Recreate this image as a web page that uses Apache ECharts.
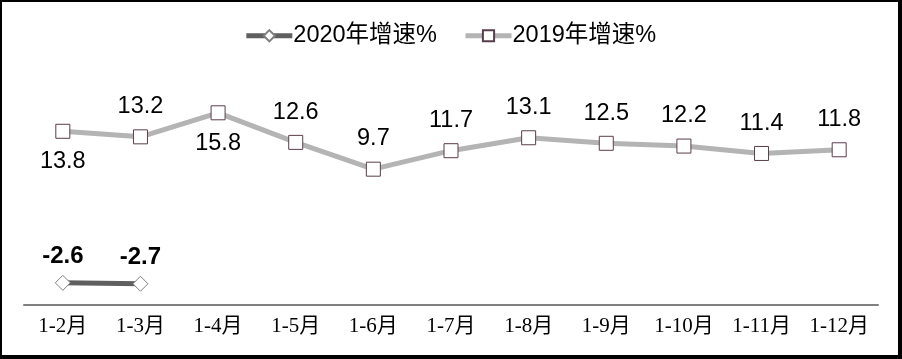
<!DOCTYPE html>
<html><head><meta charset="utf-8">
<script src="https://cdn.jsdelivr.net/npm/echarts@6/dist/echarts.min.js"></script>
<style>
html,body{margin:0;padding:0;background:#fff;}
#c{width:902px;height:359px;box-sizing:border-box;border-style:solid;border-color:#000;border-width:2px 4px 4px 2px;}
</style></head>
<body><div id="c"></div>
<script>
const categories = ['1-2月','1-3月','1-4月','1-5月','1-6月','1-7月','1-8月','1-9月','1-10月','1-11月','1-12月'];
const values2020 = [-2.6, -2.7, null, null, null, null, null, null, null, null, null];
const values2019 = [13.8, 13.2, 15.8, 12.6, 9.7, 11.7, 13.1, 12.5, 12.2, 11.4, 11.8];
const belowIdx2019 = [0, 2];
const name2020 = '2020年增速%';
const name2019 = '2019年增速%';

const chart = echarts.init(document.getElementById('c'));
const labelFont = "'Liberation Sans', Arial, 'Noto Sans CJK SC', sans-serif";
chart.setOption({
  animation: false,
  legend: {
    top: 17, left: 'center', itemGap: 26, itemWidth: 46, itemHeight: 14,
    lineStyle: {width: 5},
    textStyle: {fontSize: 23.5, color: '#000', fontFamily: labelFont, padding: [0, 0, 0, -4]},
    data: [name2020, name2019]
  },
  grid: {left: 22, right: 20, top: 72, bottom: 50},
  xAxis: {
    type: 'category', data: categories, boundaryGap: true,
    axisLine: {onZero: false, lineStyle: {color: '#808080', width: 2}},
    axisTick: {show: false},
    axisLabel: {fontSize: 21, color: '#000', margin: 11, fontFamily: "'Liberation Serif', 'DejaVu Serif', 'Noto Sans CJK SC', serif"}
  },
  yAxis: {type: 'value', min: -5, max: 20, show: false, splitLine: {show: false}},
  series: [
    {
      name: name2020, type: 'line', data: values2020,
      symbol: 'diamond', symbolSize: 15,
      lineStyle: {color: '#5f5f5f', width: 5},
      itemStyle: {color: '#fff', borderColor: '#7f7f7f', borderWidth: 1},
      label: {show: true, position: 'top', distance: 6, fontSize: 24, fontWeight: 'bold', color: '#000', fontFamily: labelFont}
    },
    {
      name: name2019, type: 'line',
      data: values2019.map((v, i) => belowIdx2019.includes(i)
        ? {value: v, label: {position: 'bottom', distance: 11}}
        : v),
      symbol: 'rect', symbolSize: 14,
      lineStyle: {color: '#b4b4b4', width: 5},
      itemStyle: {color: '#fff', borderColor: '#5a3d4c', borderWidth: 1},
      label: {show: true, position: 'top', distance: 11, fontSize: 23.5, color: '#000', fontFamily: labelFont}
    }
  ]
});
</script></body></html>
